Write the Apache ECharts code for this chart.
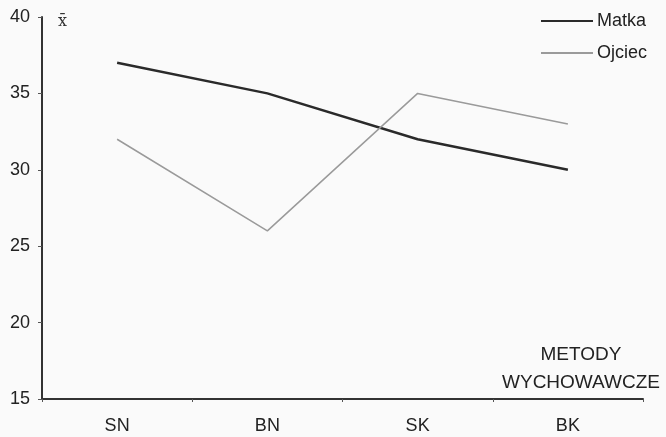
<!DOCTYPE html>
<html><head><meta charset="utf-8">
<script src="https://cdn.jsdelivr.net/npm/echarts@6/dist/echarts.min.js"></script>
<style>html,body{margin:0;padding:0;background:#fafafa}#c{width:666px;height:437px}</style>
</head><body><div id="c"></div>
<script>
const categories = ['SN', 'BN', 'SK', 'BK'];
const matka = [37, 35, 32, 30];
const ojciec = [32, 26, 35, 33];
const yTicks = [15, 20, 25, 30, 35, 40];

const chart = echarts.init(document.getElementById('c'));
const font = 'Liberation Sans, Arial, sans-serif';
chart.setOption({
  backgroundColor: '#fafafa',
  animation: false,
  grid: { left: 42, right: 23, top: 17, bottom: 38 },
  legend: {
    orient: 'vertical', right: 14, top: 7, itemGap: 14,
    itemWidth: 52, itemHeight: 2, icon: 'rect',
    textStyle: { fontFamily: font, fontSize: 18, color: '#222', padding: [0, 0, 0, -1] },
    data: [
      { name: 'Matka', itemStyle: { color: '#2a2a2a' } },
      { name: 'Ojciec', itemStyle: { color: '#9a9a9a' } }
    ]
  },
  xAxis: {
    type: 'category', data: categories, boundaryGap: true,
    axisLine: { lineStyle: { color: '#333', width: 2 } },
    axisTick: { show: true, length: 3, lineStyle: { color: '#555' } },
    axisLabel: { fontFamily: font, fontSize: 18, color: '#222', margin: 18 }
  },
  yAxis: {
    type: 'value', min: yTicks[0], max: yTicks[yTicks.length - 1], interval: 5,
    name: 'x\u0304', nameLocation: 'end', nameGap: -13,
    nameTextStyle: { fontFamily: 'DejaVu Serif, serif', fontSize: 16, color: '#333', align: 'left', padding: [0, 0, 0, 16] },
    splitLine: { show: false },
    axisLine: { show: true, lineStyle: { color: '#333', width: 2 } },
    axisTick: { show: true, length: 4, lineStyle: { color: '#555' } },
    axisLabel: { fontFamily: font, fontSize: 18, color: '#222', margin: 12 }
  },
  graphic: [{
    type: 'text', x: 581, y: 341,
    style: { text: 'METODY\nWYCHOWAWCZE', fontFamily: font, fontSize: 19, fill: '#222', align: 'center', lineHeight: 28 }
  }],
  series: [
    { name: 'Matka', type: 'line', data: matka, showSymbol: false, symbol: 'none',
      lineStyle: { color: '#2a2a2a', width: 2.5 }, itemStyle: { color: '#2a2a2a' } },
    { name: 'Ojciec', type: 'line', data: ojciec, showSymbol: false, symbol: 'none',
      lineStyle: { color: '#9a9a9a', width: 1.5 }, itemStyle: { color: '#9a9a9a' } }
  ]
});
</script></body></html>
